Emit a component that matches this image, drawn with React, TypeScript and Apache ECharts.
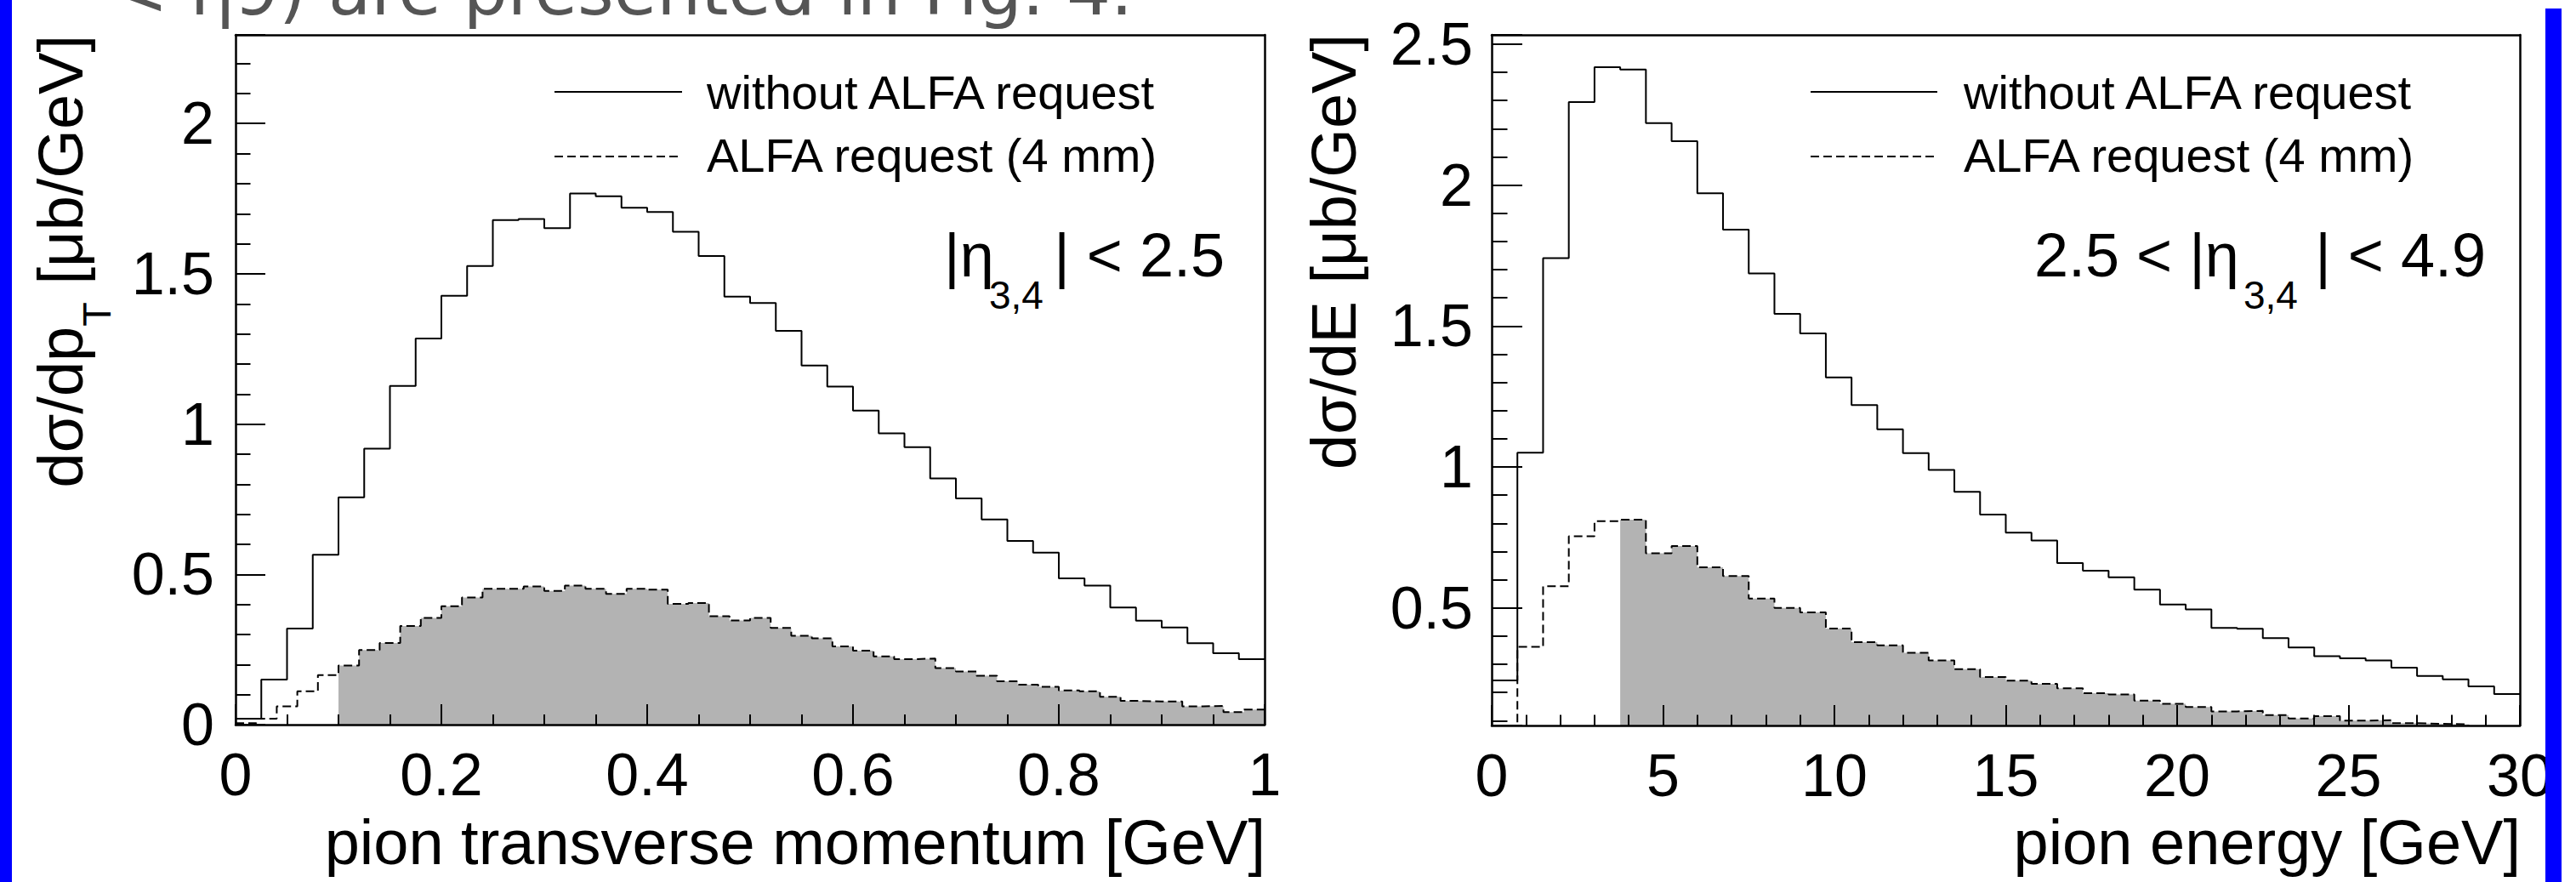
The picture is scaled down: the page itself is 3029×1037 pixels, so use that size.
import React, { useEffect, useRef } from 'react';
import * as echarts from 'echarts';

const FONT = 'Liberation Sans';
const MID = 0.3465; // central baseline offset (em) above alphabetic baseline

// ---------------- Left panel : pion transverse momentum ----------------
const ptRange = [0, 1];
const ptYRange = [0, 2.295];
const ptXMajor = 0.2;
const ptXMinor = 0.05;
const ptYMajor = 0.5;
const ptYMinor = 0.1;
const ptBinWidthSolid = 0.025;
const ptWithoutAlfa = [
  0.02, 0.15, 0.32, 0.565, 0.756, 0.918, 1.127, 1.285, 1.427, 1.526,
  1.679, 1.682, 1.652, 1.767, 1.758, 1.72, 1.706, 1.64, 1.559, 1.424,
  1.403, 1.31, 1.195, 1.125, 1.045, 0.969, 0.923, 0.819, 0.753, 0.683,
  0.611, 0.572, 0.487, 0.463, 0.39, 0.346, 0.323, 0.271, 0.238, 0.218,
];
const ptBinWidthDashed = 0.02;
const ptAlfa4mm = [
  0.005, 0.02, 0.061, 0.111, 0.165, 0.197, 0.248, 0.272, 0.328, 0.355,
  0.394, 0.423, 0.452, 0.452, 0.46, 0.445, 0.463, 0.452, 0.435, 0.452,
  0.449, 0.402, 0.405, 0.361, 0.347, 0.355, 0.322, 0.296, 0.287, 0.26,
  0.246, 0.227, 0.218, 0.22, 0.188, 0.177, 0.163, 0.144, 0.133, 0.126,
  0.114, 0.111, 0.093, 0.079, 0.077, 0.077, 0.061, 0.062, 0.042, 0.05,
];
const ptShadeStart = 0.1;

// ---------------- Right panel : pion energy ----------------
const eRange = [0, 30];
const eYRange = [0.083, 2.533];
const eXMajor = 5;
const eXMinor = 1;
const eYMajor = 0.5;
const eYMinor = 0.1;
const eBinWidth = 0.75;
const eWithoutAlfa = [
  0.243, 1.051, 1.741, 2.295, 2.418, 2.41, 2.22, 2.156, 1.971, 1.842,
  1.687, 1.543, 1.474, 1.318, 1.22, 1.134, 1.049, 0.99, 0.912, 0.831,
  0.767, 0.739, 0.659, 0.632, 0.609, 0.565, 0.512, 0.495, 0.429, 0.426,
  0.393, 0.36, 0.329, 0.321, 0.314, 0.288, 0.259, 0.247, 0.222, 0.195,
];
const eAlfa4mm = [
  0.05, 0.362, 0.577, 0.754, 0.808, 0.813, 0.694, 0.72, 0.644, 0.613,
  0.533, 0.5, 0.484, 0.427, 0.379, 0.367, 0.341, 0.314, 0.283, 0.255,
  0.242, 0.231, 0.215, 0.198, 0.193, 0.171, 0.16, 0.149, 0.133, 0.135,
  0.12, 0.108, 0.116, 0.1, 0.102, 0.091, 0.089, 0.087, 0.078, 0.076,
];
const eShadeStart = 3.75;

const legendLabels = ['without ALFA request', 'ALFA request (4 mm)'];
const topText = '< η9) are presented in Fig. 4.';

const r6 = (v: number) => Math.round(v * 1e6) / 1e6;
const isMult = (v: number, s: number) => Math.abs(v / s - Math.round(v / s)) < 1e-6;
const fmt = (v: number) => String(Math.round(v * 1000) / 1000);

function stepPoints(values: number[], width: number, startIndex = 0): [number, number][] {
  const pts: [number, number][] = [];
  for (let i = startIndex; i < values.length; i++) pts.push([r6(i * width), values[i]]);
  pts.push([r6(values.length * width), values[values.length - 1]]);
  return pts;
}

type AxisOpts = {
  grid: number;
  position: string;
  min: number;
  max: number;
  step: number;
  tickLen: number;
  labels?: boolean;
  line?: boolean;
  ticks?: boolean;
  labelMargin?: number;
};

function axis(o: AxisOpts) {
  const fromZero = isMult(o.min, o.step);
  const spacing: any = fromZero
    ? { interval: o.step }
    : { minInterval: o.step, maxInterval: o.step, splitNumber: Math.round((o.max - o.min) / o.step) };
  return {
    type: 'value',
    gridIndex: o.grid,
    position: o.position,
    min: o.min,
    max: o.max,
    ...spacing,
    z: 10,
    axisLine: { show: !!o.line, onZero: false, lineStyle: { color: '#000', width: 2.5 } },
    axisTick: { show: o.ticks !== false, inside: true, length: o.tickLen, lineStyle: { color: '#000', width: 2 } },
    axisLabel: {
      show: !!o.labels,
      margin: o.labelMargin ?? 24,
      fontSize: 70,
      fontFamily: FONT,
      color: '#000',
      formatter: (v: number) => (isMult(v, o.step) ? fmt(v) : ''),
    },
    splitLine: { show: false },
    minorTick: { show: false },
    minorSplitLine: { show: false },
  };
}

export default function App() {
  const ref = useRef<HTMLDivElement>(null);

  useEffect(() => {
    if (!ref.current) return;
    const chart = echarts.init(ref.current, null, { renderer: 'svg' });

    const ctx = document.createElement('canvas').getContext('2d')!;
    const measure = (t: string, size: number, family = FONT) => {
      ctx.font = `${size}px "${family}"`;
      return ctx.measureText(t).width;
    };

    type Piece = { t: string; size: number; drop: number };
    const txt = (t: string, x: number, y: number, size: number, extra: any = {}) => ({
      type: 'text',
      x,
      y,
      z: 50,
      silent: true,
      style: { text: t, fontSize: size, fontFamily: FONT, fill: '#000', align: 'left', verticalAlign: 'middle', ...extra },
    });
    const run = (pieces: Piece[], startX: number, baseline: number) => {
      let x = startX;
      const els: any[] = [];
      for (const p of pieces) {
        els.push(txt(p.t, x, baseline + p.drop - MID * p.size, p.size));
        x += measure(p.t, p.size);
      }
      return els;
    };
    const runWidth = (pieces: Piece[]) => pieces.reduce((s, p) => s + measure(p.t, p.size), 0);
    const vtitle = (pieces: Piece[], baseX: number, endY: number) => {
      const w = runWidth(pieces);
      return { type: 'group', x: baseX, y: endY + w, rotation: Math.PI / 2, children: run(pieces, 0, 0) };
    };

    const G = 0;
    const H = 1;

    const xAxes = [
      axis({ grid: G, position: 'bottom', min: ptRange[0], max: ptRange[1], step: ptXMajor, tickLen: 24, labels: true, line: true }),
      axis({ grid: G, position: 'bottom', min: ptRange[0], max: ptRange[1], step: ptXMinor, tickLen: 12 }),
      axis({ grid: G, position: 'top', min: ptRange[0], max: ptRange[1], step: ptXMajor, tickLen: 0, line: true, ticks: false }),
      axis({ grid: H, position: 'bottom', min: eRange[0], max: eRange[1], step: eXMajor, tickLen: 24, labels: true, line: true }),
      axis({ grid: H, position: 'bottom', min: eRange[0], max: eRange[1], step: eXMinor, tickLen: 12.5 }),
      axis({ grid: H, position: 'top', min: eRange[0], max: eRange[1], step: eXMajor, tickLen: 0, line: true, ticks: false }),
    ];
    const yAxes = [
      axis({ grid: G, position: 'left', min: ptYRange[0], max: ptYRange[1], step: ptYMajor, tickLen: 35, labels: true, line: true, labelMargin: 25 }),
      axis({ grid: G, position: 'left', min: ptYRange[0], max: ptYRange[1], step: ptYMinor, tickLen: 17.5 }),
      axis({ grid: G, position: 'right', min: ptYRange[0], max: ptYRange[1], step: ptYMajor, tickLen: 0, line: true, ticks: false }),
      axis({ grid: H, position: 'left', min: eYRange[0], max: eYRange[1], step: eYMajor, tickLen: 36, labels: true, line: true, labelMargin: 22 }),
      axis({ grid: H, position: 'left', min: eYRange[0], max: eYRange[1], step: eYMinor, tickLen: 18.5 }),
      axis({ grid: H, position: 'right', min: eYRange[0], max: eYRange[1], step: eYMajor, tickLen: 0, line: true, ticks: false }),
    ];

    const fill = (xi: number, data: [number, number][]) => ({
      type: 'line', xAxisIndex: xi, yAxisIndex: xi, step: 'end', data, symbol: 'none', silent: true, z: 1,
      lineStyle: { width: 0, opacity: 0 },
      areaStyle: { color: '#b3b3b3', opacity: 1, origin: 'start' },
    });
    const hist = (xi: number, data: [number, number][], dashed: boolean) => ({
      type: 'line', xAxisIndex: xi, yAxisIndex: xi, step: 'end', data, symbol: 'none', silent: true, z: 3,
      lineStyle: { color: '#000', width: 2, type: dashed ? [10, 5] : 'solid' },
    });

    const ptShadeBin = Math.round(ptShadeStart / ptBinWidthDashed);
    const eShadeBin = Math.round(eShadeStart / eBinWidth);

    const series = [
      fill(0, stepPoints(ptAlfa4mm, ptBinWidthDashed, ptShadeBin)),
      hist(0, stepPoints(ptAlfa4mm, ptBinWidthDashed), true),
      hist(0, stepPoints(ptWithoutAlfa, ptBinWidthSolid), false),
      fill(3, stepPoints(eAlfa4mm, eBinWidth, eShadeBin)),
      hist(3, stepPoints(eAlfa4mm, eBinWidth), true),
      hist(3, stepPoints(eWithoutAlfa, eBinWidth), false),
    ];

    const legendEls = (lx1: number, lx2: number, tx: number) => [
      { type: 'line', z: 50, shape: { x1: lx1, y1: 108, x2: lx2, y2: 108 }, style: { stroke: '#000', lineWidth: 2 } },
      { type: 'line', z: 50, shape: { x1: lx1, y1: 184, x2: lx2, y2: 184 }, style: { stroke: '#000', lineWidth: 2, lineDash: [10, 5] } },
      txt(legendLabels[0], tx, 108, 56),
      txt(legendLabels[1], tx, 182, 56),
    ];

    const SUB = 46;
    const leftAnno = [
      ...run([{ t: '|η', size: 72, drop: 0 }], 1110, 325),
      ...run([{ t: '3,4', size: SUB, drop: 0 }], 1163, 363),
    ];
    const leftAnnoTail: Piece[] = [{ t: '| < 2.5', size: 72, drop: 0 }];
    leftAnno.push(...run(leftAnnoTail, 1440 - runWidth(leftAnnoTail), 325));

    const rightAnno = [
      ...run([{ t: '2.5 < |η', size: 72, drop: 0 }], 2392, 325),
      ...run([{ t: '3,4', size: SUB, drop: 0 }], 2638, 363),
    ];
    const rightAnnoTail: Piece[] = [{ t: '| < 4.9', size: 72, drop: 0 }];
    rightAnno.push(...run(rightAnnoTail, 2923 - runWidth(rightAnnoTail), 325));

    const TS = 74;
    const xTitleY = 1016 - MID * TS;
    const graphics: any[] = [
      {
        type: 'text', x: 129, y: 17 - 0.346 * 82, z: 40, silent: true,
        style: { text: topText, fontSize: 82, fontFamily: 'DejaVu Sans', fill: '#555555', align: 'left', verticalAlign: 'middle' },
      },
      ...legendEls(652, 802, 831),
      ...legendEls(2129, 2278, 2309),
      ...leftAnno,
      ...rightAnno,
      txt('pion transverse momentum [GeV]', 1488, xTitleY, TS, { align: 'right' }),
      txt('pion energy [GeV]', 2964, xTitleY, TS, { align: 'right' }),
      vtitle(
        [
          { t: 'dσ/dp', size: TS, drop: 0 },
          { t: 'T', size: 47, drop: 33 },
          { t: ' [μb/GeV]', size: TS, drop: 0 },
        ],
        97,
        41,
      ),
      vtitle(
        [
          { t: 'dσ/dE', size: TS, drop: 0 },
          { t: ' [μb/GeV]', size: TS, drop: 0 },
        ],
        1594,
        40,
      ),
      { type: 'rect', z: 100, silent: true, shape: { x: 0, y: 0, width: 14, height: 1037 }, style: { fill: '#0000ff' } },
      { type: 'rect', z: 100, silent: true, shape: { x: 2993, y: 10, width: 19, height: 1027 }, style: { fill: '#0000ff' } },
    ];

    chart.setOption({
      animation: false,
      backgroundColor: '#ffffff',
      textStyle: { fontFamily: FONT },
      grid: [
        { left: 277, top: 41, width: 1210, height: 811, containLabel: false, show: false },
        { left: 1754, top: 41, width: 1209, height: 812, containLabel: false, show: false },
      ],
      xAxis: xAxes,
      yAxis: yAxes,
      series,
      graphic: { elements: graphics },
    } as any);

    return () => chart.dispose();
  }, []);

  return (
    <div
      ref={ref}
      style={{ position: 'fixed', left: 0, top: 0, width: 3029, height: 1037, background: '#fff' }}
    />
  );
}
